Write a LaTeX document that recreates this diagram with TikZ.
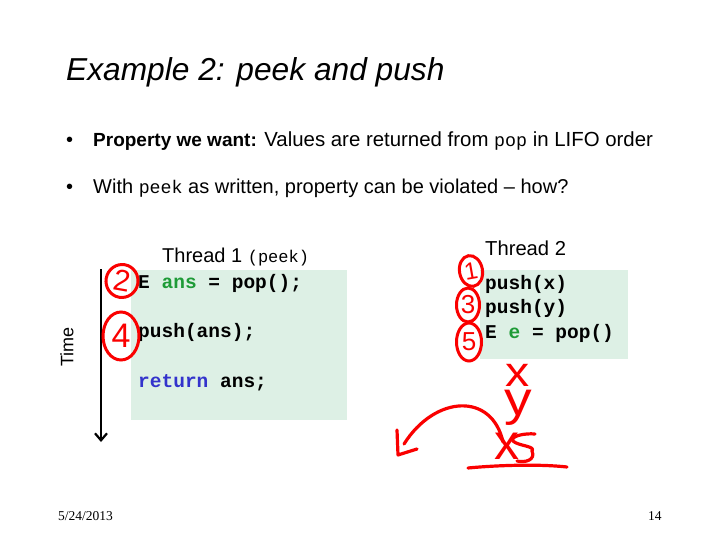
\documentclass[tikz,border=0pt]{standalone}
\usepackage{fontspec}
\setmainfont{Liberation Sans}
\setmonofont{Liberation Mono}
\newfontfamily\footfont{Liberation Serif}
\usetikzlibrary{arrows.meta,shapes.geometric}
\definecolor{boxgreen}{RGB}{221,240,229}
\definecolor{codegreen}{RGB}{30,155,55}
\definecolor{codeblue}{RGB}{51,51,204}
\definecolor{ink}{RGB}{250,0,0}
\begin{document}
\begin{tikzpicture}[x=1pt,y=-1pt,
  txt/.style={inner sep=0pt,anchor=base west},
  code/.style={inner sep=0pt,anchor=base west,font=\fontsize{19.5}{22}\selectfont\ttfamily\bfseries},
  codebox/.style={fill=boxgreen,draw=none},
  hand/.style={draw=ink,line width=3.2pt,line cap=round,line join=round},
  digit/.style={ellipse,draw=ink,line width=3pt,inner sep=0pt,text=ink,font=\fontsize{30}{30}\selectfont},
  handtxt/.style={inner sep=0pt,text=ink}]
\useasboundingbox (0,0) rectangle (720,540);
\fill[white] (0,0) rectangle (720,540);

% title
\node[txt,font=\fontsize{31.7}{36}\selectfont\itshape] (title) at (66,81) {Example 2: peek and push};

% bullets
\node[txt,font=\fontsize{20}{24}\selectfont] (b1dot) at (66,147) {•};
\node[txt,font=\fontsize{20.4}{24}\selectfont] (b1) at (93,147) {{\fontsize{19}{24}\selectfont\bfseries Property we want:} Values are returned from {\fontsize{18.3}{24}\selectfont\ttfamily pop} in LIFO order};
\node[txt,font=\fontsize{20}{24}\selectfont] (b2dot) at (66,194) {•};
\node[txt,font=\fontsize{20}{24}\selectfont] (b2) at (93,194) {With {\fontsize{18.3}{24}\selectfont\ttfamily peek} as written, property can be violated – how?};

% code boxes
\path[codebox] (131,270) rectangle (347,420);
\path[codebox] (480,270) rectangle (628,359);

% thread labels
\node[txt,font=\fontsize{20}{24}\selectfont] (t1) at (162,262) {Thread 1 {\fontsize{17}{24}\selectfont\ttfamily (peek)}};
\node[txt,font=\fontsize{20.2}{24}\selectfont] (t2) at (485,255) {Thread 2};

% thread 1 code
\node[code] (l1) at (138,288) {E \textcolor{codegreen}{ans} = pop();};
\node[code] (l2) at (138,337) {push(ans);};
\node[code] (l3) at (138,387) {\textcolor{codeblue}{return} ans;};

% thread 2 code
\node[code] (r1) at (485,289) {push(x)};
\node[code] (r2) at (485,313) {push(y)};
\node[code] (r3) at (485,338) {E \textcolor{codegreen}{e} = pop()};

% time arrow
\coordinate (tstart) at (101,269);
\coordinate (tend) at (101,442);
\draw[line width=2.4pt,-{Straight Barb[length=7pt,width=12pt,line width=2.2pt]}] (tstart) -- (tend);
\node[font=\fontsize{18}{20}\selectfont,rotate=90,inner sep=0pt] (time) at (67,347) {Time};

% footer
\node[txt,font=\fontsize{13.5}{15}\selectfont\footfont] (date) at (58,520) {5/24/2013};
\node[txt,font=\fontsize{13.5}{15}\selectfont\footfont] (page) at (648,520) {14};

% handwritten step numbers
\node[digit,minimum width=32pt,minimum height=33pt,rotate=-10] (n2) at (122,281) {2};
\node[digit,minimum width=36pt,minimum height=48pt,font=\fontsize{34}{34}\selectfont] (n4) at (121,336) {4};
\node[digit,minimum width=23pt,minimum height=31pt,rotate=10,font=\fontsize{24}{24}\selectfont] (n1) at (471,271) {1};
\node[digit,minimum width=23pt,minimum height=34pt,font=\fontsize{26}{26}\selectfont] (n3) at (468,305) {3};
\node[digit,minimum width=25pt,minimum height=38pt,font=\fontsize{26}{26}\selectfont] (n5) at (469,342) {5};

% handwritten stack values (x above y)
\node[handtxt,xscale=1.15] (hxy) at (518,395) {\shortstack{{\fontsize{42}{42}\selectfont x}\\{\fontsize{48}{48}\selectfont y}}};
\node[handtxt,font=\fontsize{50}{50}\selectfont] (hx2) at (507,446) {x};
\coordinate (sA) at (535,434);
\coordinate (sB) at (513,441);
\coordinate (sC) at (532,451);
\coordinate (sD) at (517,461);
\draw[hand] (sA) .. controls (525,433) and (510,436) .. (sB) .. controls (518,446) and (536,446) .. (sC) .. controls (536,460) and (525,463) .. (sD);

% curved arrow
\coordinate (arcS) at (503,442);
\coordinate (arcE) at (404,444);
\coordinate (tipA) at (397,430);
\coordinate (tip) at (398,455);
\coordinate (tipB) at (417,449);
\draw[hand] (arcS) .. controls (492,392) and (435,395) .. (arcE);
\draw[hand] (tipA) -- (tip) -- (tipB);

% underline
\coordinate (uS) at (468,468);
\coordinate (uE) at (567,467);
\draw[hand] (uS) .. controls (500,465) and (540,464) .. (uE);
\end{tikzpicture}
\end{document}
